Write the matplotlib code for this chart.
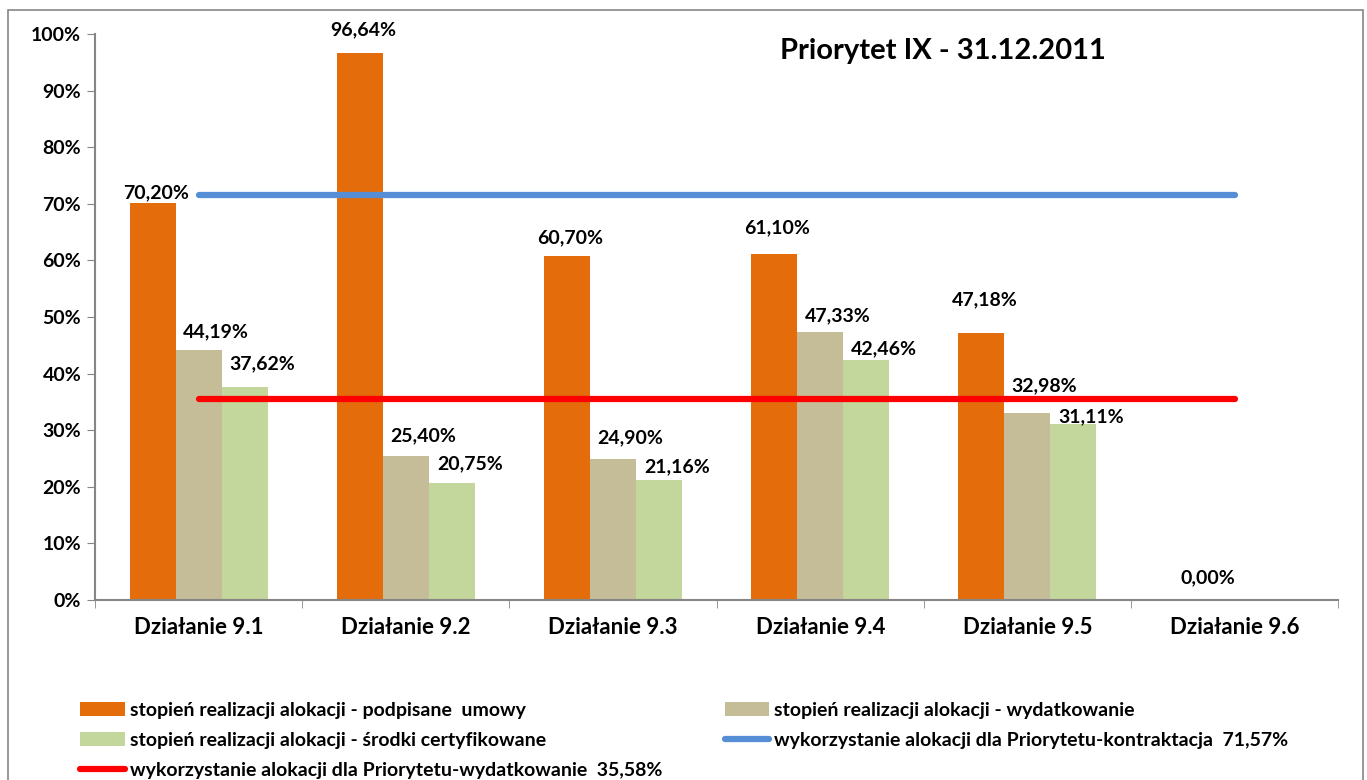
import matplotlib.pyplot as plt
import matplotlib.patches as mpatches
import numpy as np

plt.rcParams['font.family'] = ['Lato', 'DejaVu Sans']
plt.rcParams['font.weight'] = 'bold'

# dane
kategorie = ['Działanie 9.1', 'Działanie 9.2', 'Działanie 9.3',
             'Działanie 9.4', 'Działanie 9.5', 'Działanie 9.6']
umowy = [70.20, 96.64, 60.70, 61.10, 47.18, 0.00]
wydatki = [44.19, 25.40, 24.90, 47.33, 32.98, None]
certyfikowane = [37.62, 20.75, 21.16, 42.46, 31.11, None]
kontraktacja = 71.57
wydatkowanie = 35.58

etykiety_serii = ['stopień realizacji alokacji - podpisane  umowy',
                  'stopień realizacji alokacji - wydatkowanie',
                  'stopień realizacji alokacji - środki certyfikowane',
                  'wykorzystanie alokacji dla Priorytetu-kontraktacja  71,57%',
                  'wykorzystanie alokacji dla Priorytetu-wydatkowanie  35,58%']

kolory = ['#E46C0A', '#C4BD97', '#C3D69B']

# przesuniecia etykiet (piksele) - tak jak w Excelu
dy_etykiet = [[10, 23, 19, 26, 33, 22],
              [18, 20, 21, 16, 28],
              [23, 19, 13, 11, 7]]
dx_etykiet = [3, 17, 18]

fig = plt.figure(figsize=(13.67, 7.80), dpi=100)
ax = fig.add_axes([0.0695, 0.2308, 0.9095, 0.7256])

x = np.arange(len(kategorie))
w = 0.222

def fmt(v):
    return f'{v:.2f}%'.replace('.', ',')

seria = [umowy, wydatki, certyfikowane]
uchwyty = []
for i, (dane, kol) in enumerate(zip(seria, kolory)):
    xs = [xx + (i - 1) * w for xx, v in zip(x, dane) if v is not None]
    vs = [v for v in dane if v is not None]
    b = ax.bar(xs, vs, width=w, color=kol, label=etykiety_serii[i])
    uchwyty.append(b)
    for j, (xx, v) in enumerate(zip(xs, vs)):
        dx = dx_etykiet[i] if v > 0 else 19
        ax.annotate(fmt(v), (xx, v), xytext=(dx * 0.72, dy_etykiet[i][j] * 0.72),
                    textcoords='offset points', ha='center', va='center',
                    fontsize=14, fontweight='bold')

l1, = ax.plot([x[0], x[-1]], [kontraktacja, kontraktacja], color='#558ED5', lw=4.5,
              solid_capstyle='round', label=etykiety_serii[3])
l2, = ax.plot([x[0], x[-1]], [wydatkowanie, wydatkowanie], color='#FF0000', lw=4.5,
              solid_capstyle='round', label=etykiety_serii[4])

ax.set_xlim(-0.5, len(kategorie) - 0.5)
ax.set_ylim(0, 100)
ax.set_yticks(np.arange(0, 101, 10))
ax.set_yticklabels([f'{t}%' for t in range(0, 101, 10)], fontsize=14, fontweight='bold')
ax.set_xticks(x)
ax.set_xticklabels(kategorie, fontsize=16, fontweight='bold')
ax.set_xticks(np.arange(-0.5, len(kategorie)), minor=True)
ax.tick_params(axis='x', which='major', length=0, pad=12)
ax.tick_params(axis='x', which='minor', length=6, color='#868686')
ax.tick_params(axis='y', length=6, color='#868686', pad=4)
for s in ['top', 'right']:
    ax.spines[s].set_visible(False)
for s in ['left', 'bottom']:
    ax.spines[s].set_color('#868686')
    ax.spines[s].set_linewidth(1.5)

fig.text(0.69, 0.935, 'Priorytet IX - 31.12.2011', fontsize=21, fontweight='bold',
         ha='center', va='center')

# legenda
kolejnosc = [uchwyty[0], uchwyty[2], l2, uchwyty[1], l1]
fig.legend(kolejnosc, [h.get_label() for h in kolejnosc], ncol=2,
           loc='upper left', bbox_to_anchor=(0.046, 0.123), frameon=False,
           handlelength=2.3, handletextpad=0.25,
           columnspacing=3.2, labelspacing=0.68, prop={'weight': 'bold', 'size': 14})

# ramka
fig.patches.append(mpatches.Rectangle((0.006, -0.01), 0.991, 0.997, transform=fig.transFigure,
                                      fill=False, edgecolor='#868686', lw=1.2))

fig.savefig('out.png', dpi=100)
